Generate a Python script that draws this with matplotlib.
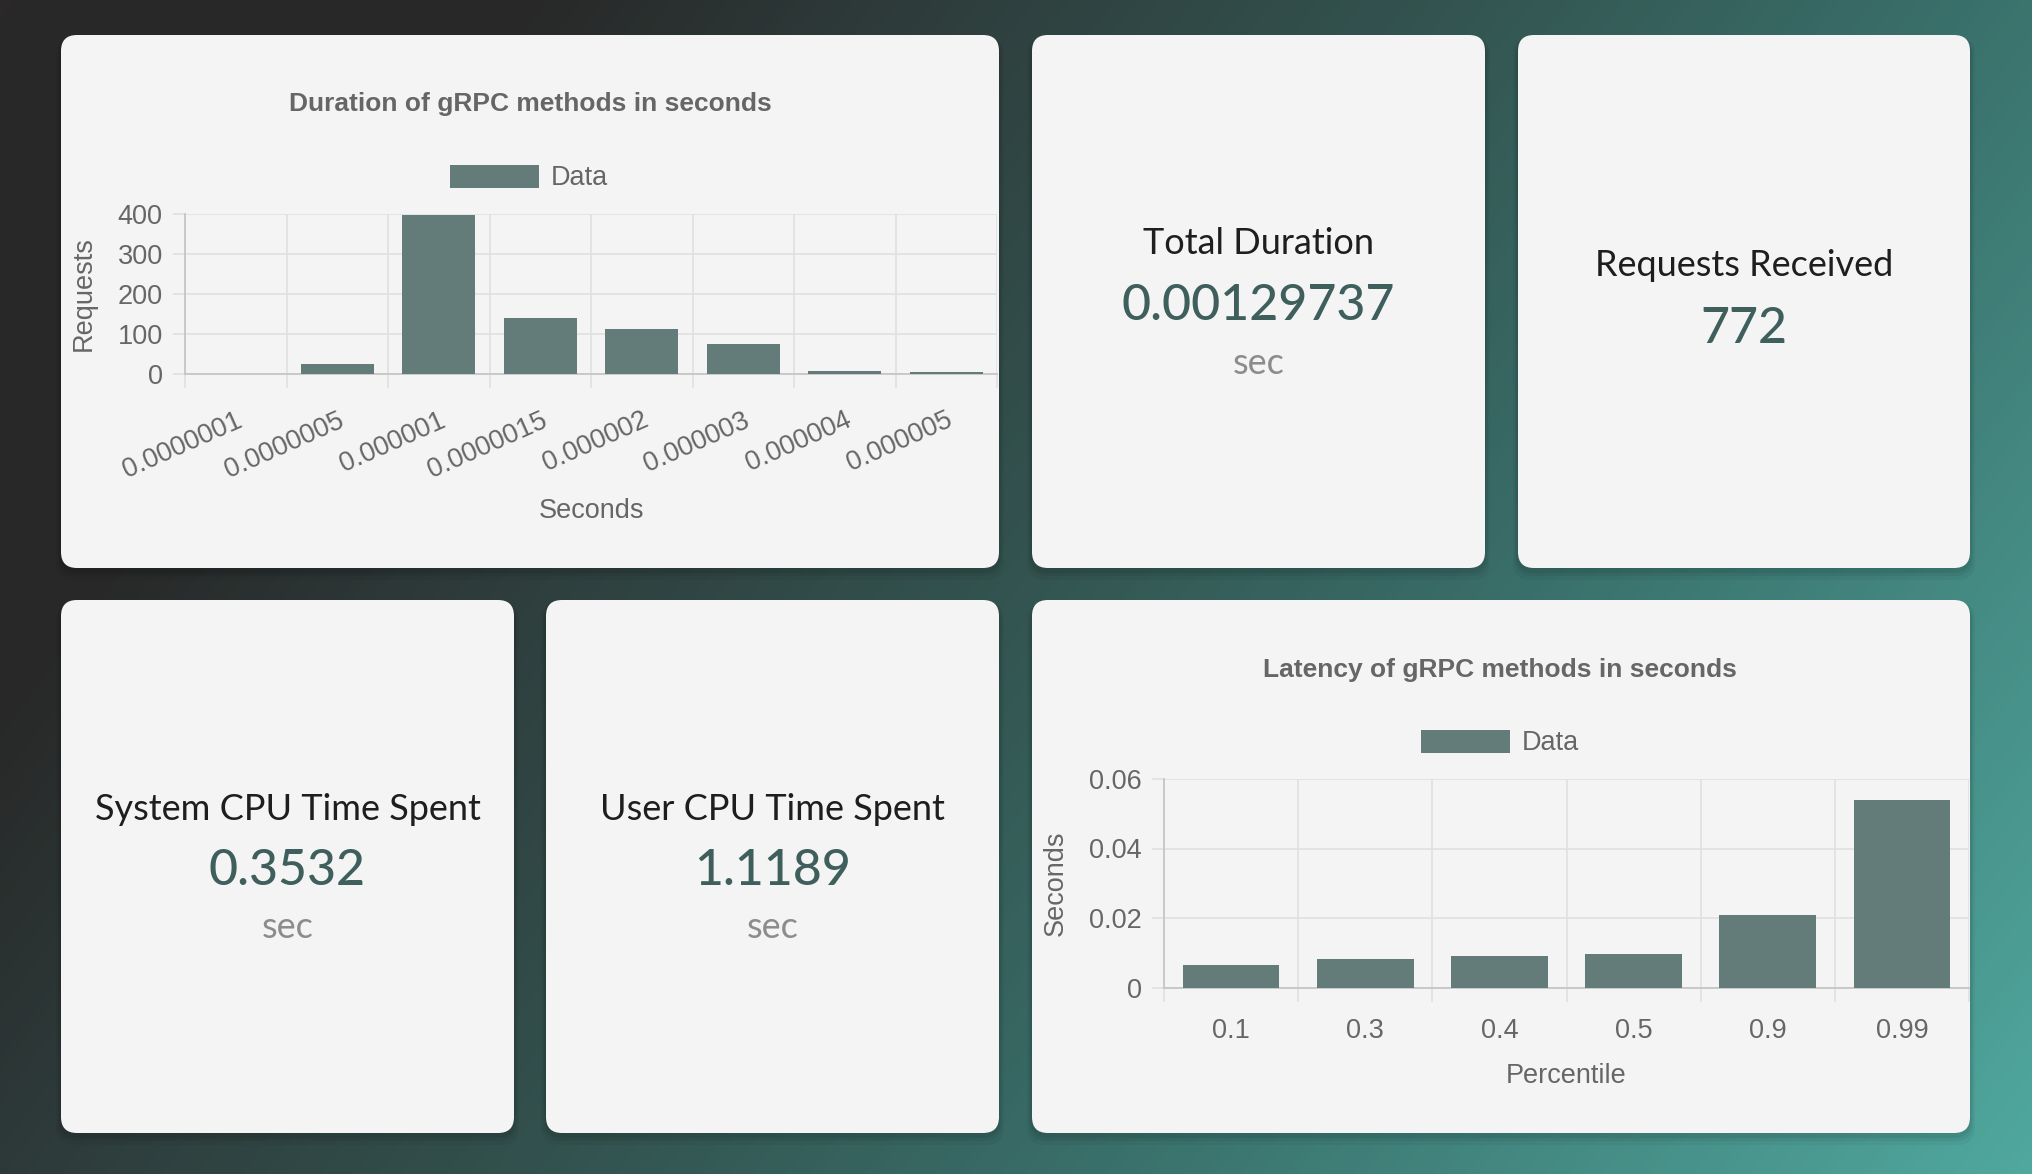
import numpy as np
import matplotlib
matplotlib.use("Agg")
import matplotlib.pyplot as plt
from matplotlib.patches import FancyBboxPatch
from matplotlib.colors import LinearSegmentedColormap

# ---------------- data ----------------
duration_labels = ["0.0000001", "0.0000005", "0.000001", "0.0000015",
                   "0.000002", "0.000003", "0.000004", "0.000005"]
duration_counts = [0, 24, 398, 140, 112, 76, 8, 6]
duration_yticks = [0, 100, 200, 300, 400]

latency_labels = ["0.1", "0.3", "0.4", "0.5", "0.9", "0.99"]
latency_values = [0.0066, 0.0082, 0.0090, 0.0095, 0.0208, 0.0541]
latency_yticks = [0, 0.02, 0.04, 0.06]
latency_ytick_labels = ["0", "0.02", "0.04", "0.06"]

stat_titles = ["Total Duration", "Requests Received",
               "System CPU Time Spent", "User CPU Time Spent"]
stat_values = ["0.00129737", "772", "0.3532", "1.1189"]
stat_units = ["sec", "", "sec", "sec"]

# ---------------- style ----------------
W, H = 2032, 1174
CARD = "#f4f4f4"
BAR = "#637b79"
GRID = "#e0e0e0"
AXIS = "#c6c6c6"
TXT = "#666666"
VAL = "#3f5f5c"
CHART_FONT = "Liberation Sans"
CARD_FONT = "Lato"
FS = 19.5
FS_TITLE = 19

fig = plt.figure(figsize=(W / 100, H / 100), dpi=100)
bg = fig.add_axes([0, 0, 1, 1])
bg.set_xlim(0, W)
bg.set_ylim(H, 0)
bg.axis("off")

# background gradient
yy, xx = np.mgrid[0:H:4, 0:W:4]
t = 0.7 * xx / W + 0.3 * yy / H
cmap = LinearSegmentedColormap.from_list(
    "bgc", [(0.0, "#2a2829"), (0.18, "#282828"), (0.32, "#2e3d3c"),
            (0.5, "#335450"), (0.68, "#3a706b"), (1.0, "#50a89e")])
bg.imshow(t, extent=(0, W, H, 0), cmap=cmap, vmin=0, vmax=1,
          aspect="auto", interpolation="bilinear", zorder=0)

cards = {
    "dur": (61, 35, 999, 568),
    "total": (1032, 35, 1485, 568),
    "req": (1518, 35, 1970, 568),
    "sys": (61, 600, 514, 1133),
    "user": (546, 600, 999, 1133),
    "lat": (1032, 600, 1970, 1133),
}
for (x0, y0, x1, y1) in cards.values():
    for k, a in [(10, 0.04), (6, 0.05), (3, 0.06)]:
        bg.add_patch(FancyBboxPatch((x0 - k / 2, y0 + 2), x1 - x0 + k, y1 - y0 + k,
                                    boxstyle="round,pad=0,rounding_size=18",
                                    fc="black", ec="none", alpha=a, zorder=1))
    bg.add_patch(FancyBboxPatch((x0, y0), x1 - x0, y1 - y0,
                                boxstyle="round,pad=0,rounding_size=16",
                                fc=CARD, ec="none", zorder=2))

# stat cards
stat_layout = [("total", 244, 306, 363), ("req", 266, 329, None),
               ("sys", 809, 871, 927), ("user", 809, 871, 927)]
for (key, ty, vy, uy), title, val, unit in zip(stat_layout, stat_titles, stat_values, stat_units):
    x0, y0, x1, y1 = cards[key]
    cx = (x0 + x1) / 2
    bg.text(cx, ty, title, ha="center", va="center", fontsize=26,
            family=CARD_FONT, weight="normal", color="#1e1e1e", zorder=3)
    bg.text(cx, vy, val, ha="center", va="center", fontsize=36,
            family=CARD_FONT, weight="medium", color=VAL, zorder=3)
    if unit and uy:
        bg.text(cx, uy, unit, ha="center", va="center", fontsize=26,
                family=CARD_FONT, weight="normal", color="#8c8c8c", zorder=3)


def px_axes(x0, y0, x1, y1):
    return fig.add_axes([x0 / W, 1 - y1 / H, (x1 - x0) / W, (y1 - y0) / H])


def style_axes(ax, n):
    ax.set_facecolor("none")
    ax.set_xlim(-0.5, n - 0.5)
    ax.set_xticks(np.arange(n))
    ax.set_xticks(np.arange(-0.5, n, 1), minor=True)
    ax.tick_params(axis="x", which="minor", length=10, width=1.2, color=GRID)
    ax.tick_params(axis="y", which="major", length=9, width=1.2, color=GRID,
                   pad=7, labelsize=FS, labelcolor=TXT)
    ax.grid(which="minor", axis="x", color=GRID, lw=1.2)
    ax.grid(which="major", axis="y", color=GRID, lw=1.2)
    ax.set_axisbelow(True)
    for s in ["top", "right"]:
        ax.spines[s].set_visible(False)
    for s in ["left", "bottom"]:
        ax.spines[s].set_color(AXIS)
        ax.spines[s].set_linewidth(1.3)
    for lab in ax.get_yticklabels():
        lab.set_family(CHART_FONT)


# ---- Duration chart ----
ax1 = px_axes(185, 214, 997, 374)
x1 = np.arange(len(duration_labels))
ax1.bar(x1, duration_counts, width=0.72, color=BAR, label="Data", zorder=3)
ax1.set_ylim(0, 400)
ax1.set_yticks(duration_yticks)
style_axes(ax1, len(duration_labels))
ax1.set_xticklabels(duration_labels, rotation=24, ha="right", va="top",
                    rotation_mode="anchor", family=CHART_FONT, fontsize=FS, color=TXT)
ax1.tick_params(axis="x", which="major", length=0, pad=24)
ax1.set_xlabel("Seconds", family=CHART_FONT, fontsize=FS, color=TXT)
ax1.xaxis.set_label_coords(0.5, (374 - 511) / 160)
ax1.xaxis.label.set_va("center")
ax1.set_ylabel("Requests", family=CHART_FONT, fontsize=FS, color=TXT)
ax1.yaxis.set_label_coords((84 - 185) / 812, 0.5)
ax1.yaxis.label.set_va("center")
bg.text(530, 104, "Duration of gRPC methods in seconds", ha="center", va="center",
        fontsize=FS_TITLE, weight="bold", family=CHART_FONT, color=TXT, zorder=3)
ax1.legend(loc="center", bbox_to_anchor=(529 / W, 1 - 178 / H), bbox_transform=fig.transFigure,
           frameon=False, handlelength=3.3, handleheight=0.95, handletextpad=0.45,
           prop={"family": CHART_FONT, "size": FS}, labelcolor=TXT)

# ---- Latency chart ----
ax2 = px_axes(1164, 779, 1969, 987.5)
x2 = np.arange(len(latency_labels))
ax2.bar(x2, latency_values, width=0.72, color=BAR, label="Data", zorder=3)
ax2.set_ylim(0, 0.06)
ax2.set_yticks(latency_yticks)
ax2.set_yticklabels(latency_ytick_labels)
style_axes(ax2, len(latency_labels))
ax2.set_xticklabels(latency_labels, family=CHART_FONT, fontsize=FS, color=TXT)
ax2.tick_params(axis="x", which="major", length=0, pad=22)
ax2.set_xlabel("Percentile", family=CHART_FONT, fontsize=FS, color=TXT)
ax2.xaxis.set_label_coords(0.5, (987.5 - 1076) / 208.5)
ax2.xaxis.label.set_va("center")
ax2.set_ylabel("Seconds", family=CHART_FONT, fontsize=FS, color=TXT)
ax2.yaxis.set_label_coords((1056 - 1164) / 805, 0.5)
ax2.yaxis.label.set_va("center")
bg.text(1500, 670, "Latency of gRPC methods in seconds", ha="center", va="center",
        fontsize=FS_TITLE, weight="bold", family=CHART_FONT, color=TXT, zorder=3)
ax2.legend(loc="center", bbox_to_anchor=(1500 / W, 1 - 743 / H), bbox_transform=fig.transFigure,
           frameon=False, handlelength=3.3, handleheight=0.95, handletextpad=0.45,
           prop={"family": CHART_FONT, "size": FS}, labelcolor=TXT)

fig.savefig("out.png", dpi=100)
